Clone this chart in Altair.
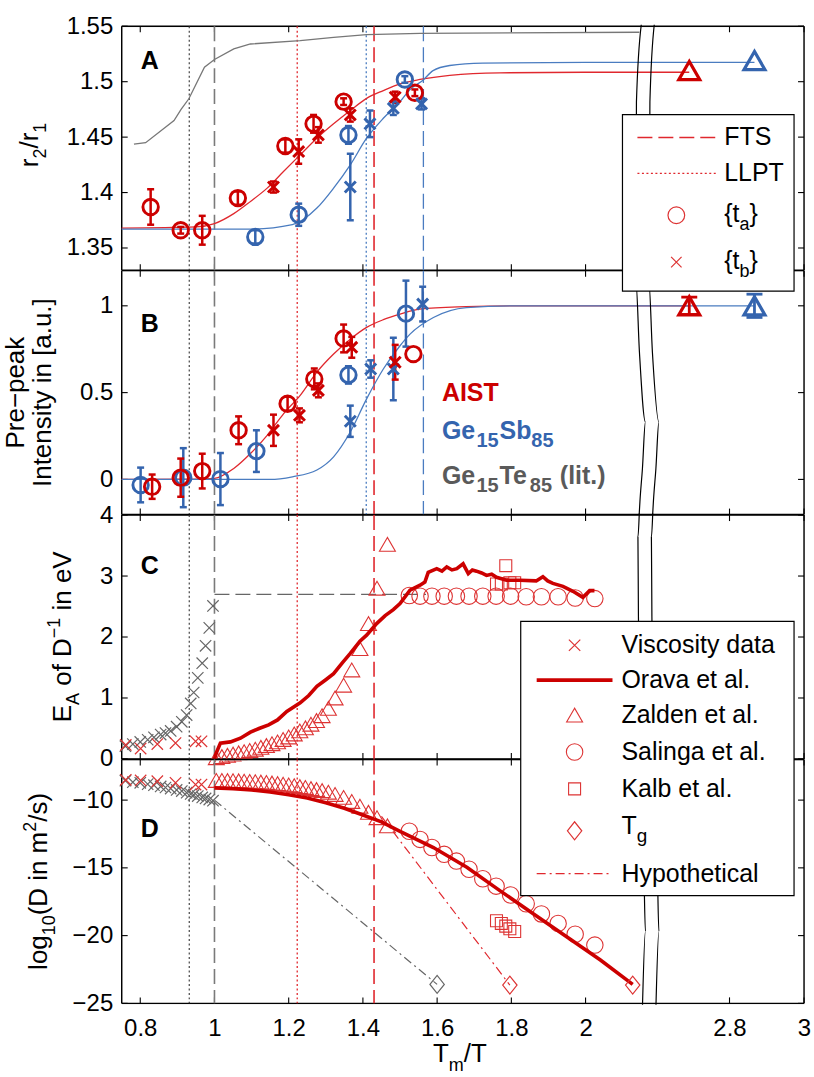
import altair as alt
import pandas as pd

# ---------------- Panel A : r2/r1 ----------------
A_AIST_TA_X = [0.828, 0.909, 0.967, 1.063, 1.191, 1.267, 1.348, 1.540]
A_AIST_TA_Y = [1.387, 1.366, 1.366, 1.395, 1.442, 1.462, 1.482, 1.490]
A_AIST_TA_E = [0.016, 0.003, 0.013, 0.006, 0.006, 0.008, 0.003, 0.003]
A_AIST_TB_X = [1.159, 1.227, 1.280, 1.366, 1.487]
A_AIST_TB_Y = [1.405, 1.437, 1.452, 1.470, 1.486]
A_AIST_TB_E = [0.005, 0.011, 0.007, 0.006, 0.005]
A_GS_TA_X = [1.110, 1.227, 1.361, 1.513]
A_GS_TA_Y = [1.360, 1.380, 1.452, 1.502]
A_GS_TA_E = [0.006, 0.010, 0.008, 0.003]
A_GS_TB_X = [1.366, 1.419, 1.482, 1.558]
A_GS_TB_Y = [1.405, 1.462, 1.476, 1.480]
A_GS_TB_E = [0.030, 0.012, 0.006, 0.005]
A_CRYST_X = [2.692, 2.867]
A_CRYST_Y = [1.510, 1.519]
A_AIST_FIT_X = [0.75, 0.95, 1.0, 1.052, 1.097, 1.142, 1.186, 1.231, 1.276, 1.321, 1.366, 1.41, 1.455, 1.5, 1.554, 1.634, 1.769, 2.0, 2.692]
A_AIST_FIT_Y = [1.368, 1.369, 1.372, 1.381, 1.392, 1.404, 1.419, 1.434, 1.449, 1.462, 1.474, 1.485, 1.492, 1.498, 1.502, 1.5057, 1.508, 1.5085, 1.5085]
A_GS_FIT_X = [0.75, 1.1, 1.21, 1.276, 1.321, 1.366, 1.41, 1.455, 1.5, 1.527, 1.562, 1.589, 1.634, 1.723, 2.0, 2.867]
A_GS_FIT_Y = [1.367, 1.367, 1.371, 1.386, 1.404, 1.425, 1.449, 1.467, 1.482, 1.493, 1.5014, 1.510, 1.5146, 1.5167, 1.5175, 1.5175]
A_GT_X = [0.783, 0.8145, 0.891, 0.91, 0.931, 0.973, 1.0, 1.052, 1.097, 1.231, 1.321, 1.41, 1.554, 2.145]
A_GT_Y = [1.4436, 1.445, 1.465, 1.475, 1.4846, 1.5131, 1.520, 1.5296, 1.534, 1.537, 1.540, 1.5425, 1.5436, 1.5446]

# ---------------- Panel B : pre-peak intensity ----------------
B_AIST_TA_X = [0.832, 0.909, 0.967, 1.065, 1.197, 1.269, 1.348, 1.536]
B_AIST_TA_Y = [-0.042, 0.010, 0.048, 0.283, 0.436, 0.579, 0.812, 0.722]
B_AIST_TA_E = [0.07, 0.11, 0.10, 0.08, 0.04, 0.06, 0.08, 0.0]
B_AIST_TB_X = [1.159, 1.229, 1.280, 1.370, 1.487]
B_AIST_TB_Y = [0.283, 0.369, 0.513, 0.761, 0.675]
B_AIST_TB_E = [0.09, 0.04, 0.04, 0.06, 0.10]
B_GS_TA_X = [0.801, 0.916, 1.016, 1.113, 1.361, 1.516]
B_GS_TA_Y = [-0.032, 0.010, 0.002, 0.163, 0.602, 0.955]
B_GS_TA_E = [0.10, 0.17, 0.15, 0.12, 0.05, 0.19]
B_GS_TB_X = [1.366, 1.421, 1.482, 1.561]
B_GS_TB_Y = [0.335, 0.636, 0.636, 1.01]
B_GS_TB_E = [0.09, 0.05, 0.18, 0.10]
B_CRYST_X = [2.692, 2.867]
B_CRYST_Y = [1.0, 1.0]
B_CRYST_E = [0.05, 0.067]
B_AIST_FIT_X = [0.75, 0.95, 1.0, 1.052, 1.097, 1.142, 1.186, 1.231, 1.276, 1.321, 1.366, 1.41, 1.455, 1.5, 1.553, 1.678, 1.8, 2.692]
B_AIST_FIT_Y = [0.0, 0.002, 0.006, 0.063, 0.149, 0.254, 0.378, 0.484, 0.618, 0.722, 0.808, 0.876, 0.92, 0.952, 0.981, 0.995, 1.0, 1.0]
B_GS_FIT_X = [0.75, 1.15, 1.21, 1.276, 1.321, 1.366, 1.41, 1.455, 1.5, 1.527, 1.59, 1.679, 1.8, 2.867]
B_GS_FIT_Y = [0.0, 0.0, 0.015, 0.054, 0.13, 0.273, 0.464, 0.636, 0.77, 0.837, 0.933, 0.99, 1.0, 1.0]

# ---------------- Panels C (E_A) and D (log10 D) ----------------
GT_VISC_X = [0.76, 0.78, 0.80, 0.82, 0.837, 0.855, 0.868, 0.882, 0.898, 0.912, 0.925, 0.936, 0.944, 0.955, 0.967, 0.976, 0.986, 0.996]
GT_VISC_C = [0.21, 0.245, 0.28, 0.315, 0.355, 0.40, 0.425, 0.46, 0.53, 0.61, 0.72, 0.91, 1.09, 1.33, 1.57, 1.855, 2.15, 2.51]
GT_VISC_D = [-8.57, -8.68, -8.72, -8.82, -8.9, -8.99, -9.07, -9.15, -9.25, -9.33, -9.45, -9.55, -9.62, -9.7, -9.8, -9.88, -9.96, -10.04]
AIST_VISC_X = [0.761, 0.801, 0.846, 0.895, 0.949, 0.965]
AIST_VISC_C = [0.23, 0.17, 0.245, 0.26, 0.29, 0.29]
AIST_VISC_D = [-8.5, -8.55, -8.6, -8.72, -8.85, -8.85]
ORAVA_C_X = [1.0, 1.005, 1.016, 1.043, 1.07, 1.097, 1.12, 1.146, 1.17, 1.195, 1.231, 1.254, 1.276, 1.3, 1.321,
             1.345, 1.366, 1.392, 1.41, 1.437, 1.46, 1.482, 1.5, 1.527, 1.554, 1.567, 1.576, 1.599, 1.613, 1.626,
             1.64, 1.653, 1.67, 1.684, 1.695, 1.706, 1.72, 1.733, 1.747, 1.76, 1.787, 1.823, 1.867, 1.885, 1.898,
             1.912, 1.939, 1.966, 1.993, 2.011, 2.024]
ORAVA_C_Y = [0.0, 0.1, 0.26, 0.28, 0.34, 0.44, 0.5, 0.56, 0.64, 0.78, 0.92, 1.04, 1.19, 1.3, 1.4,
             1.58, 1.73, 1.93, 2.03, 2.22, 2.35, 2.45, 2.55, 2.77, 2.85, 2.9, 3.06, 3.12, 3.08, 3.15,
             3.1, 3.12, 3.2, 3.04, 3.1, 3.08, 3.05, 3.01, 3.03, 2.98, 2.93, 2.93, 2.92, 2.99, 2.92,
             2.88, 2.83, 2.75, 2.65, 2.76, 2.76]
ORAVA_D_X = [1.0, 1.05, 1.1, 1.15, 1.2, 1.25, 1.3, 1.35, 1.4, 1.45, 1.5, 1.59, 1.68, 1.77, 1.86, 1.95, 2.04, 2.127]
ORAVA_D_Y = [-9.1, -9.15, -9.25, -9.4, -9.6, -9.85, -10.2, -10.6, -11.1, -11.6, -12.3, -13.5, -14.95, -16.7, -18.4, -20.1, -21.8, -23.6]
ZALDEN_X = [1.005, 1.02, 1.035, 1.05, 1.065, 1.08, 1.095, 1.11, 1.125, 1.14, 1.155, 1.17, 1.185, 1.2,
            1.215, 1.23, 1.245, 1.26, 1.275, 1.29, 1.307, 1.325, 1.348, 1.37, 1.392, 1.415, 1.438, 1.466]
ZALDEN_C = [0.02, 0.04, 0.06, 0.08, 0.10, 0.12, 0.14, 0.16, 0.19, 0.22, 0.25, 0.28, 0.32, 0.36,
            0.41, 0.46, 0.51, 0.57, 0.63, 0.71, 0.83, 1.0, 1.21, 1.46, 1.81, 2.22, 2.80, 3.52]
ZALDEN_D = [-8.55, -8.55, -8.56, -8.57, -8.58, -8.6, -8.62, -8.64, -8.67, -8.7, -8.74, -8.78, -8.83, -8.88,
            -8.94, -9.0, -9.07, -9.15, -9.22, -9.3, -9.42, -9.58, -9.8, -10.1, -10.45, -10.9, -11.3, -11.9]
SALINGA_X = [1.525, 1.554, 1.586, 1.619, 1.652, 1.686, 1.723, 1.759, 1.798, 1.840, 1.881, 1.926, 1.972, 2.025]
SALINGA_C = [2.68, 2.67, 2.67, 2.67, 2.67, 2.67, 2.67, 2.67, 2.67, 2.66, 2.66, 2.66, 2.64, 2.63]
SALINGA_D = [-12.3, -12.9, -13.5, -14.0, -14.5, -15.1, -15.8, -16.35, -17.0, -17.65, -18.4, -19.1, -19.9, -20.7]
KALB_X = [1.76, 1.773, 1.785, 1.796, 1.809]
KALB_C = [2.87, 2.87, 3.17, 2.89, 2.89]
KALB_D = [-18.9, -19.1, -19.3, -19.5, -19.7]
TG_X = [1.6, 1.796, 2.127]
TG_D = [-23.6, -23.65, -23.65]
HYPO_GT_X = [1.0, 1.6]
HYPO_GT_Y = [-10.0, -23.6]
HYPO_AIST_X = [1.45, 1.796]
HYPO_AIST_Y = [-11.2, -23.65]
EA_LEVEL_X = [1.0, 1.57]
EA_LEVEL_Y = [2.7, 2.7]

# vertical markers (Tm/T)
V_DOT_BLACK = 0.932
V_DASH_GRAY = 1.0
V_DOT_RED = 1.223
V_DOT_BLUE = 1.409
V_DASH_RED = 1.430
V_DASH_BLUE = 1.563

X_TICKS = [0.8, 1, 1.2, 1.4, 1.6, 1.8, 2, 2.8, 3]
A_TICKS = [1.35, 1.4, 1.45, 1.5, 1.55]
B_TICKS = [0, 0.5, 1]
C_TICKS = [0, 1, 2, 3, 4]
D_TICKS = [-25, -20, -15, -10]

# ---------------- styling / layout ----------------
FONT = "Liberation Sans"
W, H = 684, 244.5
LEFT = 121
TOPS = [24, 24 + H, 24 + 2 * H, 24 + 3 * H]
XDOM = [0.75, 2.1586, 2.5984, 3.0]
XRNG = [0, 524, 534, 684]
RED = "#cc0000"
RED_L = "#e0282e"
RED_M = "#dd3333"
BLUE = "#3464ae"
BLUE_L = "#4a7cc0"
GRAY = "#6a6a6a"
CROSS = "M-1,-1L1,1M-1,1L1,-1"
DIAMOND = "M-0.8,0L0,-1L0.8,0L0,1Z"
ONE = pd.DataFrame({"k": [0]})

AW = {' ': 278, '(': 333, ')': 333, '/': 278, '.': 278, '−': 584, '-': 333, '[': 278, ']': 278,
      '{': 334, '}': 334, 'A': 667, 'D': 722, 'E': 667, 'G': 778, 'I': 278, 'P': 667, 'S': 667,
      'T': 611, 'V': 667, 'a': 556, 'b': 556, 'c': 500, 'd': 556, 'e': 556, 'f': 278, 'g': 556,
      'i': 222, 'k': 500, 'l': 222, 'm': 833, 'n': 556, 'o': 556, 'p': 556, 'r': 333, 's': 500,
      't': 278, 'u': 556, 'v': 500, 'y': 500}


def tw(s, size):
    return sum(AW.get(c, 556) for c in s) * size / 1000.0


class Panel:
    def __init__(self, ydom, yticks, top, show_x=False, minus=False):
        self.top = top
        self.ys = alt.Scale(domain=ydom, nice=False, zero=False)
        expr = "replace(''+datum.value, '-', '\u2212')" if minus else "''+datum.value"
        self.yax = alt.Axis(values=yticks, ticks=False, domain=False, grid=False, title=None,
                            labelFontSize=24, labelFont=FONT, labelColor="black", labelPadding=9,
                            labelOverlap=False, labelExpr=expr)
        self.xax = None
        if show_x:
            self.xax = alt.Axis(values=X_TICKS, ticks=False, domain=False, grid=False, title=None,
                                labelFontSize=24, labelFont=FONT, labelColor="black", labelPadding=13,
                                labelOverlap=False, labelFlush=False, labelExpr="''+datum.value")
        self.yticks = yticks
        self.layers = []

    def X(self, f):
        return alt.X(f"{f}:Q", scale=alt.Scale(domain=XDOM, range=XRNG, nice=False, zero=False), axis=self.xax)

    def Y(self, f):
        return alt.Y(f"{f}:Q", scale=self.ys, axis=self.yax)

    def add(self, *ls):
        self.layers.extend(ls)

    def frame(self):
        dx = pd.DataFrame({"v": X_TICKS})
        dy = pd.DataFrame({"v": self.yticks})
        k = dict(color="black", strokeWidth=1.1)
        self.add(
            alt.Chart(dx).mark_rule(**k).encode(x=self.X("v"), y=alt.value(0), y2=alt.value(6)),
            alt.Chart(dx).mark_rule(**k).encode(x=self.X("v"), y=alt.value(H), y2=alt.value(H - 6)),
            alt.Chart(dy).mark_rule(**k).encode(y=self.Y("v"), x=alt.value(0), x2=alt.value(6)),
            alt.Chart(dy).mark_rule(**k).encode(y=self.Y("v"), x=alt.value(W), x2=alt.value(W - 6)),
        )
        b = dict(color="black", strokeWidth=1.4)
        self.add(
            alt.Chart(ONE).mark_rule(**b).encode(x=alt.value(0), x2=alt.value(W), y=alt.value(0)),
            alt.Chart(ONE).mark_rule(**b).encode(x=alt.value(0), x2=alt.value(W), y=alt.value(H)),
            alt.Chart(ONE).mark_rule(**b).encode(y=alt.value(0), y2=alt.value(H), x=alt.value(0)),
            alt.Chart(ONE).mark_rule(**b).encode(y=alt.value(0), y2=alt.value(H), x=alt.value(W)),
        )

    def vline(self, xv, color, dash, sw=1.2):
        df = pd.DataFrame({"x": [xv]})
        self.add(alt.Chart(df).mark_rule(color=color, strokeDash=dash, strokeWidth=sw).encode(x=self.X("x")))

    def line(self, xs, ys, color, sw, dash=None, interp="linear"):
        df = pd.DataFrame({"x": xs, "y": ys})
        kw = dict(color=color, strokeWidth=sw, interpolate=interp)
        if dash:
            kw["strokeDash"] = dash
        self.add(alt.Chart(df).mark_line(**kw).encode(x=self.X("x"), y=self.Y("y")))

    def pts(self, xs, ys, shape, color, size, sw):
        df = pd.DataFrame({"x": xs, "y": ys})
        self.add(alt.Chart(df).mark_point(shape=shape, filled=False, color=color, size=size,
                                          strokeWidth=sw, opacity=1).encode(x=self.X("x"), y=self.Y("y")))

    def ebar(self, xs, ys, es, color, sw=2.5, cap=7):
        rows = [(x, y - e, y + e) for x, y, e in zip(xs, ys, es) if e > 0]
        df = pd.DataFrame(rows, columns=["x", "lo", "hi"])
        self.add(
            alt.Chart(df).mark_rule(color=color, strokeWidth=sw).encode(x=self.X("x"), y=self.Y("lo"), y2="hi:Q"),
            alt.Chart(df).mark_tick(orient="horizontal", color=color, size=cap, thickness=sw, opacity=1).encode(
                x=self.X("x"), y=self.Y("lo")),
            alt.Chart(df).mark_tick(orient="horizontal", color=color, size=cap, thickness=sw, opacity=1).encode(
                x=self.X("x"), y=self.Y("hi")),
        )

    def brk(self):
        top = self.top
        pts_ = [(y - top, l - LEFT, r - LEFT) for y, l, r in zip(BRK_Y, BRK_XL, BRK_XR)]
        lo, hi = -1.5, H + 1.5

        def interp(yv):
            for (y0, l0, r0), (y1, l1, r1) in zip(pts_, pts_[1:]):
                if y0 <= yv <= y1:
                    t = (yv - y0) / (y1 - y0)
                    return (l0 + t * (l1 - l0), r0 + t * (r1 - r0))
            return (pts_[-1][1], pts_[-1][2])

        rows = [(lo,) + interp(lo)] + [p for p in pts_ if lo < p[0] < hi] + [(hi,) + interp(hi)]
        df = pd.DataFrame(rows, columns=["py", "xl", "xr"])
        df["i"] = range(len(df))
        self.add(
            alt.Chart(df).mark_area(orient="horizontal", color="white", opacity=1, interpolate="monotone").encode(
                y=alt.Y("py:Q", scale=None), x=alt.X("xl:Q", scale=None), x2="xr:Q", order="i:Q"),
            alt.Chart(df).mark_line(color="black", strokeWidth=1.2, interpolate="monotone").encode(
                x=alt.X("xl:Q", scale=None), y=alt.Y("py:Q", scale=None), order="i:Q"),
            alt.Chart(df).mark_line(color="black", strokeWidth=1.2, interpolate="monotone").encode(
                x=alt.X("xr:Q", scale=None), y=alt.Y("py:Q", scale=None), order="i:Q"),
        )

    def txt(self, text, x, y, size, color="black", bold=False, angle=0, align="left", baseline="alphabetic"):
        kw = dict(text=text, font=FONT, fontSize=size, color=color, align=align, baseline=baseline)
        if bold:
            kw["fontWeight"] = "bold"
        if angle:
            kw["angle"] = angle
        self.add(alt.Chart(ONE).mark_text(**kw).encode(x=alt.value(x), y=alt.value(y)))

    def rich(self, pieces, x, y, size, sub, color="black", bold=False, vertical=False):
        pos = 0.0
        for t, kind in pieces:
            fs = size if kind == "n" else sub
            shift = 0 if kind == "n" else (0.32 * size if kind == "sub" else -0.42 * size)
            lead = len(t) - len(t.lstrip(" "))
            pos += tw(" " * lead, fs)
            t2 = t.lstrip(" ")
            if vertical:
                self.txt(t2, x + shift, y - pos, fs, color, bold, angle=270)
            else:
                self.txt(t2, x + pos, y + shift, fs, color, bold)
            pos += tw(t2, fs) * (1.04 if bold else 1.0)

    def vtitle(self, pieces, xabs, ycenter_abs, size=26, sub=18):
        total = sum(tw(t, size if k == "n" else sub) for t, k in pieces)
        self.rich(pieces, xabs - LEFT, ycenter_abs - self.top + total / 2, size, sub, vertical=True)

    def lrule(self, x1, x2, y, color, sw, dash=None):
        kw = dict(color=color, strokeWidth=sw)
        if dash:
            kw["strokeDash"] = dash
        self.add(alt.Chart(ONE).mark_rule(**kw).encode(x=alt.value(x1), x2=alt.value(x2), y=alt.value(y)))

    def lpt(self, x, y, shape, color, size, sw=1.1):
        self.add(alt.Chart(ONE).mark_point(shape=shape, filled=False, color=color, size=size, strokeWidth=sw,
                                           opacity=1).encode(x=alt.value(x), y=alt.value(y)))

    def lbox(self, x1, x2, y1, y2):
        self.add(alt.Chart(ONE).mark_rect(fill="white", stroke="black", strokeWidth=1.2).encode(
            x=alt.value(x1), x2=alt.value(x2), y=alt.value(y1), y2=alt.value(y2)))

    def chart(self):
        return alt.layer(*self.layers).properties(width=W, height=H)


# axis-break outline (absolute pixel geometry of the wavy double line)
BRK_Y = [20, 100, 280, 350, 420, 467, 500, 535, 615, 868, 930, 1006]
BRK_XL = [642.0, 637.0, 636.5, 640.0, 646.0, 643.0, 640.5, 638.5, 639.0, 644.5, 646.0, 643.0]
BRK_XR = [655.0, 650.5, 649.5, 653.0, 659.5, 656.5, 654.0, 652.0, 652.5, 658.0, 659.5, 656.5]

DOT = [2, 2.5]
DASH = [15, 6]


def vlines(p, blue=True):
    p.vline(V_DOT_BLACK, "#333333", DOT, 1.1)
    p.vline(V_DASH_GRAY, "#7a7a7a", DASH, 1.6)
    p.vline(V_DOT_RED, RED_L, DOT, 1.3)
    if blue:
        p.vline(V_DOT_BLUE, BLUE_L, DOT, 1.3)
    p.vline(V_DASH_RED, RED_L, DASH, 1.6)
    if blue:
        p.vline(V_DASH_BLUE, BLUE_L, DASH, 1.3)


# ---------------- Panel A ----------------
pA = Panel([1.33, 1.55], A_TICKS, TOPS[0])
pA.frame()
vlines(pA)
pA.line(A_GT_X, A_GT_Y, "#777777", 1.3)
pA.line(A_AIST_FIT_X, A_AIST_FIT_Y, RED_L, 1.3, interp="monotone")
pA.line(A_GS_FIT_X, A_GS_FIT_Y, BLUE_L, 1.3, interp="monotone")
for xs, ys, es, col in [(A_AIST_TA_X, A_AIST_TA_Y, A_AIST_TA_E, RED), (A_AIST_TB_X, A_AIST_TB_Y, A_AIST_TB_E, RED),
                        (A_GS_TA_X, A_GS_TA_Y, A_GS_TA_E, BLUE), (A_GS_TB_X, A_GS_TB_Y, A_GS_TB_E, BLUE)]:
    pA.ebar(xs, ys, es, col)
pA.pts(A_AIST_TA_X, A_AIST_TA_Y, "circle", RED, 240, 2.9)
pA.pts(A_AIST_TB_X, A_AIST_TB_Y, CROSS, RED, 120, 3)
pA.pts(A_GS_TA_X, A_GS_TA_Y, "circle", BLUE, 240, 2.9)
pA.pts(A_GS_TB_X, A_GS_TB_Y, CROSS, BLUE, 120, 3)
pA.pts(A_CRYST_X[:1], A_CRYST_Y[:1], "triangle-up", RED, 441, 3.2)
pA.pts(A_CRYST_X[1:], A_CRYST_Y[1:], "triangle-up", BLUE, 441, 3.2)
pA.brk()
pA.txt("A", 19, 43, 25, bold=True)
pA.vtitle([("r", "n"), ("2", "sub"), ("/r", "n"), ("1", "sub")], 37, 143)
pA.add(alt.Chart(ONE).mark_rule(color="white", strokeWidth=1).encode(
    x=alt.value(-120.5), x2=alt.value(-120), y=alt.value(-23.5)))

# ---------------- Panel B ----------------
pB = Panel([-0.2025, 1.2025], B_TICKS, TOPS[1])
pB.frame()
vlines(pB)
pB.line(B_AIST_FIT_X, B_AIST_FIT_Y, RED_L, 1.3, interp="monotone")
pB.line(B_GS_FIT_X, B_GS_FIT_Y, BLUE_L, 1.3, interp="monotone")
for xs, ys, es, col in [(B_GS_TA_X, B_GS_TA_Y, B_GS_TA_E, BLUE), (B_GS_TB_X, B_GS_TB_Y, B_GS_TB_E, BLUE),
                        (B_AIST_TA_X, B_AIST_TA_Y, B_AIST_TA_E, RED), (B_AIST_TB_X, B_AIST_TB_Y, B_AIST_TB_E, RED)]:
    pB.ebar(xs, ys, es, col)
pB.pts(B_GS_TA_X, B_GS_TA_Y, "circle", BLUE, 240, 2.9)
pB.pts(B_GS_TB_X, B_GS_TB_Y, CROSS, BLUE, 120, 3)
pB.pts(B_AIST_TA_X, B_AIST_TA_Y, "circle", RED, 240, 2.9)
pB.pts(B_AIST_TB_X, B_AIST_TB_Y, CROSS, RED, 120, 3)
pB.ebar(B_CRYST_X[:1], B_CRYST_Y[:1], B_CRYST_E[:1], RED, 2.8, 16)
pB.ebar(B_CRYST_X[1:], B_CRYST_Y[1:], B_CRYST_E[1:], BLUE, 2.8, 16)
pB.pts(B_CRYST_X[:1], B_CRYST_Y[:1], "triangle-up", RED, 441, 3.2)
pB.pts(B_CRYST_X[1:], B_CRYST_Y[1:], "triangle-up", BLUE, 441, 3.2)
pB.brk()
# legend for FTS / LLPT / {t_a} / {t_b} (spans panels A and B)
yb = -TOPS[1]
pB.lbox(502, 674, 112 + yb, 289 + yb)
pB.lrule(517, 596, 135 + yb, RED_L, 1.4, DASH)
pB.lrule(517, 596, 171 + yb, RED_L, 1.3, DOT)
pB.lpt(556, 213 + yb, "circle", RED_M, 280, 1.2)
pB.lpt(556, 260 + yb, CROSS, RED_M, 110, 1.2)
pB.txt("FTS", 604, 135 + yb, 25, baseline="middle")
pB.txt("LLPT", 604, 171 + yb, 25, baseline="middle")
pB.rich([("{t", "n"), ("a", "sub"), ("}", "n")], 604, 220 + yb, 25, 18)
pB.rich([("{t", "n"), ("b", "sub"), ("}", "n")], 604, 267 + yb, 25, 18)
pB.txt("B", 19, 61.5, 25, bold=True)
pB.txt("AIST", 321, 130.5, 25, color=RED, bold=True)
pB.rich([("Ge", "n"), ("15", "sub"), ("Sb", "n"), ("85", "sub")], 321, 168.5, 25, 20, color=BLUE, bold=True)
pB.rich([("Ge", "n"), ("15", "sub"), ("Te", "n"), ("85", "sub"), (" (lit.)", "n")], 321, 213.5, 25, 20,
        color="#5a5a5a", bold=True)
pB.txt("Pre\u2212peak", 23 - LEFT, 390.75 - TOPS[1], 26, angle=270, align="center")
pB.txt("Intensity in [a.u.]", 50 - LEFT, 390.75 - TOPS[1], 26, angle=270, align="center")

# ---------------- Panel C ----------------
pC = Panel([0, 4], C_TICKS, TOPS[2])
pC.frame()
vlines(pC, blue=False)
pC.line(EA_LEVEL_X, EA_LEVEL_Y, "#666666", 1.3, DASH)
pC.pts(GT_VISC_X, GT_VISC_C, CROSS, "#666666", 130, 1.2)
pC.pts(AIST_VISC_X, AIST_VISC_C, CROSS, RED_M, 130, 1.2)
pC.pts(ZALDEN_X, ZALDEN_C, "triangle-up", RED_M, 256, 1.1)
pC.pts(SALINGA_X, SALINGA_C, "circle", RED_M, 272, 1.1)
pC.pts(KALB_X, KALB_C, "square", RED_M, 144, 1.1)
pC.line(ORAVA_C_X, ORAVA_C_Y, RED, 3.6)
pC.brk()
pC.txt("C", 19, 59, 25, bold=True)
pC.vtitle([("E", "n"), ("A", "sub"), (" of D", "n"), ("\u22121", "sup"), (" in eV", "n")], 70, 635)

# ---------------- Panel D ----------------
pD = Panel([-25, -7], D_TICKS, TOPS[3], show_x=True, minus=True)
pD.frame()
vlines(pD, blue=False)
pD.line(HYPO_GT_X, HYPO_GT_Y, "#666666", 1.2, [9, 4, 2, 4])
pD.line(HYPO_AIST_X, HYPO_AIST_Y, RED_L, 1.2, [9, 4, 2, 4])
pD.pts(GT_VISC_X, GT_VISC_D, CROSS, "#666666", 130, 1.2)
pD.pts(AIST_VISC_X, AIST_VISC_D, CROSS, RED_M, 130, 1.2)
pD.pts(ZALDEN_X, ZALDEN_D, "triangle-up", RED_M, 256, 1.1)
pD.pts(SALINGA_X, SALINGA_D, "circle", RED_M, 272, 1.1)
pD.pts(KALB_X, KALB_D, "square", RED_M, 144, 1.1)
pD.line(ORAVA_D_X, ORAVA_D_Y, RED, 3.6)
pD.pts(TG_X[:1], TG_D[:1], DIAMOND, "#666666", 324, 1.2)
pD.pts(TG_X[1:], TG_D[1:], DIAMOND, RED_M, 324, 1.2)
pD.brk()
yd = -TOPS[3]
pD.lbox(400, 674, 619 + yd, 894 + yd)
pD.lpt(454, 643 + yd, CROSS, RED_M, 130, 1.2)
pD.lrule(416, 492, 678 + yd, RED, 3.6)
pD.lpt(454, 713 + yd, "triangle-up", RED_M, 256, 1.1)
pD.lpt(454, 750 + yd, "circle", RED_M, 272, 1.1)
pD.lpt(454, 787 + yd, "square", RED_M, 144, 1.1)
pD.lpt(454, 829 + yd, DIAMOND, RED_M, 324, 1.2)
pD.lrule(416, 492, 872 + yd, RED_L, 1.2, [9, 4, 2, 4])
for lab, yy in [("Viscosity data", 643), ("Orava et al.", 678), ("Zalden et al.", 713),
                ("Salinga et al.", 750), ("Kalb et al.", 787), ("Hypothetical", 872)]:
    pD.txt(lab, 501, yy + yd, 25, baseline="middle")
pD.rich([("T", "n"), ("g", "sub")], 501, 832 + yd, 25, 19)
pD.txt("D", 19, 77.5, 25, bold=True)
pD.vtitle([("log", "n"), ("10", "sub"), ("(D in m", "n"), ("2", "sup"), ("/s)", "n")], 46, 879.75)
pD.rich([("T", "n"), ("m", "sub"), ("/T", "n")], 433 - LEFT, 1061 - TOPS[3], 26, 18)
pD.add(alt.Chart(ONE).mark_rule(color="white", strokeWidth=1).encode(
    x=alt.value(W + 8.5), x2=alt.value(W + 9), y=alt.value(H + 74.5)))

chart = alt.vconcat(pA.chart(), pB.chart(), pC.chart(), pD.chart(), spacing=0, bounds="flush").properties(
    padding=0, background="white"
).configure_view(stroke=None).configure(font=FONT)

chart.save("out.html", embed_options={"renderer": "svg", "actions": False})
